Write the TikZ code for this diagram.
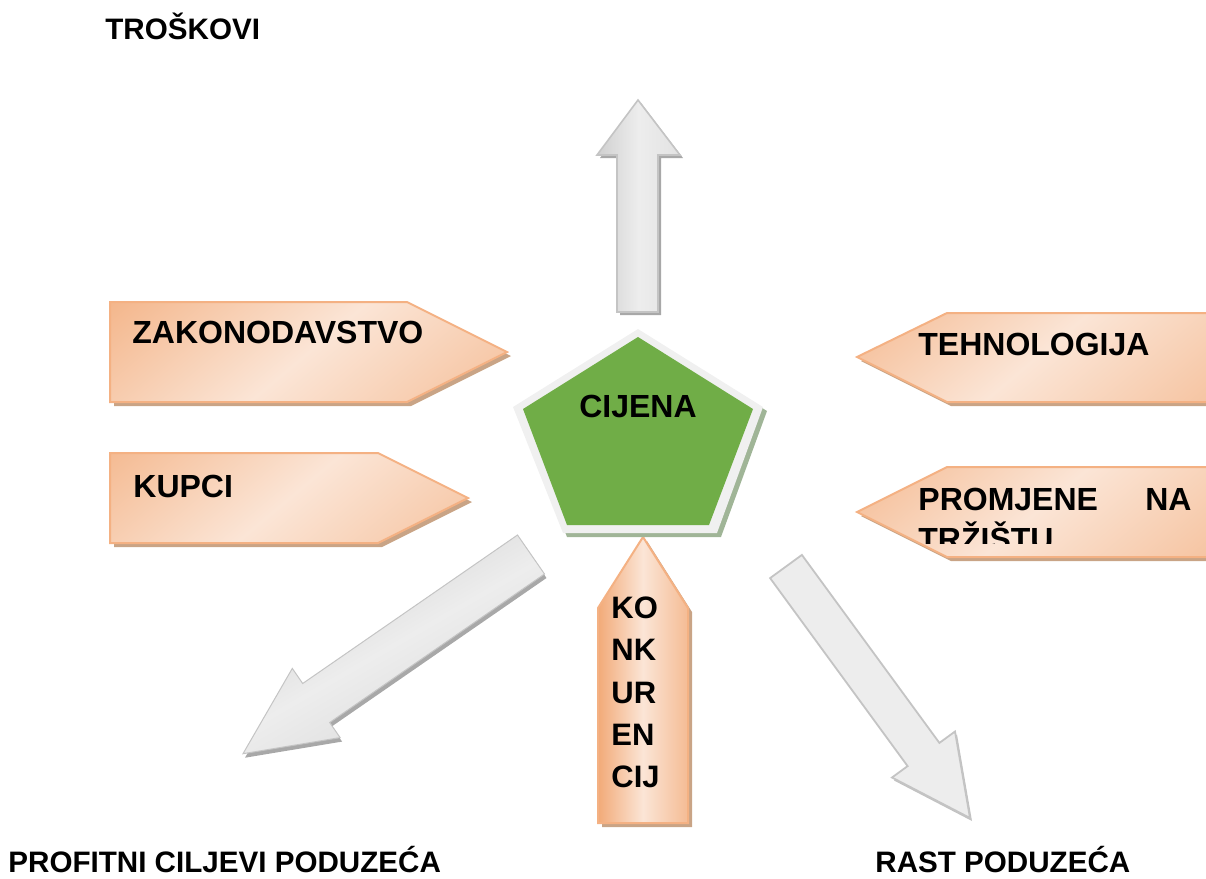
\documentclass[tikz,border=0pt]{standalone}
\usepackage{fontspec}
\setmainfont{Liberation Sans}
\definecolor{oB}{HTML}{F4B183}
\definecolor{oD}{HTML}{F2AA78}
\definecolor{oL}{HTML}{FBE5D6}
\definecolor{oS}{HTML}{C9A486}
\definecolor{gB}{HTML}{C4C4C4}
\definecolor{gD}{HTML}{CFCFCF}
\definecolor{gL}{HTML}{EDEDED}
\definecolor{gS}{HTML}{A8A8A8}
\definecolor{pG}{HTML}{70AD47}
\definecolor{pW}{HTML}{F0F0F0}
\definecolor{pS}{HTML}{A0B597}
\tikzset{
  obox/.style={draw=oB, line width=1pt, fill=oL,
    path picture={\shade[top color=oD, bottom color=oD!80!oL, middle color=oL, shading angle=40]
      (path picture bounding box.center) ++(-105pt,-105pt) rectangle ++(210pt,210pt);}},
  oshadow/.style={fill=oS},
  garrow/.style={draw=gB, line width=0.8pt, left color=gD, right color=gL},
  gshadow/.style={fill=gS},
  lbl/.style={font=\bfseries\fontsize{16}{19}\selectfont, inner sep=0pt},
  klbl/.style={font=\bfseries\fontsize{15.5}{18}\selectfont, inner sep=0pt, anchor=base west},
  olbl/.style={font=\bfseries\fontsize{14.8}{18}\selectfont, inner sep=0pt, anchor=base west},
}
\begin{document}
\begin{tikzpicture}[x=0.5pt,y=-0.5pt]
\useasboundingbox (0,0) rectangle (1206,879);
% ---------- up arrow (TROSKOVI)
\fill[gshadow] ([shift={(3,3)}]638,100) -- ++(42,55) -- ++(-22,0) -- ++(0,157) -- ++(-41,0) -- ++(0,-157) -- ++(-20,0) -- cycle;
\draw[garrow, left color=gD, right color=gD!60!white, middle color=gL] (638,100) -- (680,155) -- (658,155) -- (658,312) -- (617,312) -- (617,155) -- (597,155) -- cycle;
% ---------- left boxes
\fill[oshadow] (114,306) -- (411,306) -- (511,356) -- (411,406) -- (114,406) -- cycle;
\draw[obox] (110,302) -- (407,302) -- (507,352) -- (407,402) -- (110,402) -- cycle;
\fill[oshadow] (114,457) -- (382,457) -- (472,502) -- (382,547) -- (114,547) -- cycle;
\draw[obox] (110,453) -- (378,453) -- (468,498) -- (378,543) -- (110,543) -- cycle;
% ---------- right boxes
\fill[oshadow] (861,361) -- (951,317) -- (1215,317) -- (1215,406) -- (951,406) -- cycle;
\draw[obox] (857,357) -- (947,313) -- (1215,313) -- (1215,402) -- (947,402) -- cycle;
\fill[oshadow] (861,516) -- (951,471) -- (1215,471) -- (1215,561) -- (951,561) -- cycle;
\draw[obox] (857,512) -- (947,467) -- (1215,467) -- (1215,557) -- (947,557) -- cycle;
% ---------- bottom-left gray arrow
\fill[gshadow] (519.5,539) -- (546.5,578) -- (331.7,726.5) -- (342.1,741.6) -- (245,757.7) -- (294.3,672.4) -- (304.7,687.5) -- cycle;
\draw[draw=gB, line width=0.5pt, top color=gD, bottom color=gD!70!gL, middle color=gL, shading angle=30] (517.5,535) -- (544.5,574) -- (329.7,722.5) -- (340.1,737.6) -- (243,753.7) -- (292.3,668.4) -- (302.7,683.5) -- cycle;
% ---------- bottom-right gray arrow
\fill[gS!70] (803.9,557.9) -- (772.1,581.1) -- (909.6,769.1) -- (894,780.5) -- (972,821) -- (957,734.5) -- (941.4,745.9) -- cycle;
\draw[draw=gB, line width=0.9pt, fill=gL] (801.9,554.9) -- (770.1,578.1) -- (907.6,766.1) -- (892,777.5) -- (970,818) -- (955,731.5) -- (939.4,742.9) -- cycle;
% ---------- KONKURENCIJ box
\fill[oshadow] (647,541) -- (692,612) -- (692,827) -- (602,827) -- (602,612) -- cycle;
\draw[draw=oB, line width=1pt, left color=oD, right color=oD!70!oL, middle color=oL] (643,537) -- (688,608) -- (688,823) -- (598,823) -- (598,608) -- cycle;
% ---------- central pentagon
\fill[pS] (642,333) -- (767,411) -- (721,537) -- (567,537) -- (517,411) -- cycle;
\fill[pW] (638,329) -- (763,407) -- (717,533) -- (563,533) -- (513,407) -- cycle;
\fill[pG] (638,337) -- (753,409) -- (709,525) -- (567,525) -- (523,409) -- cycle;
% ---------- texts
\node[lbl, anchor=base] (cijena) at (638,417) {CIJENA};
\node[lbl, anchor=base west] (zak) at (132,343) {ZAKONODAVSTVO};
\node[lbl, anchor=base west] (kup) at (133,497) {KUPCI};
\node[lbl, anchor=base west] (teh) at (918,355) {TEHNOLOGIJA};
\node[lbl, anchor=base west] (prom) at (918,510) {PROMJENE};
\node[lbl, anchor=base east] (na) at (1192,510) {NA};
\begin{scope}
\clip (900,470) rectangle (1206,543);
\node[lbl, anchor=base west] (trz) at (918,550) {TRŽIŠTU};
\end{scope}
\node[klbl] (k1) at (611,618) {KO};
\node[klbl] (k2) at (611,660) {NK};
\node[klbl] (k3) at (611,703) {UR};
\node[klbl] (k4) at (611,745) {EN};
\node[klbl] (k5) at (611,787) {CIJ};
\node[olbl] (tros) at (105,39) {TROŠKOVI};
\node[olbl] (prof) at (8,872) {PROFITNI CILJEVI PODUZEĆA};
\node[olbl] (rast) at (875,872) {RAST PODUZEĆA};
\end{tikzpicture}
\end{document}
